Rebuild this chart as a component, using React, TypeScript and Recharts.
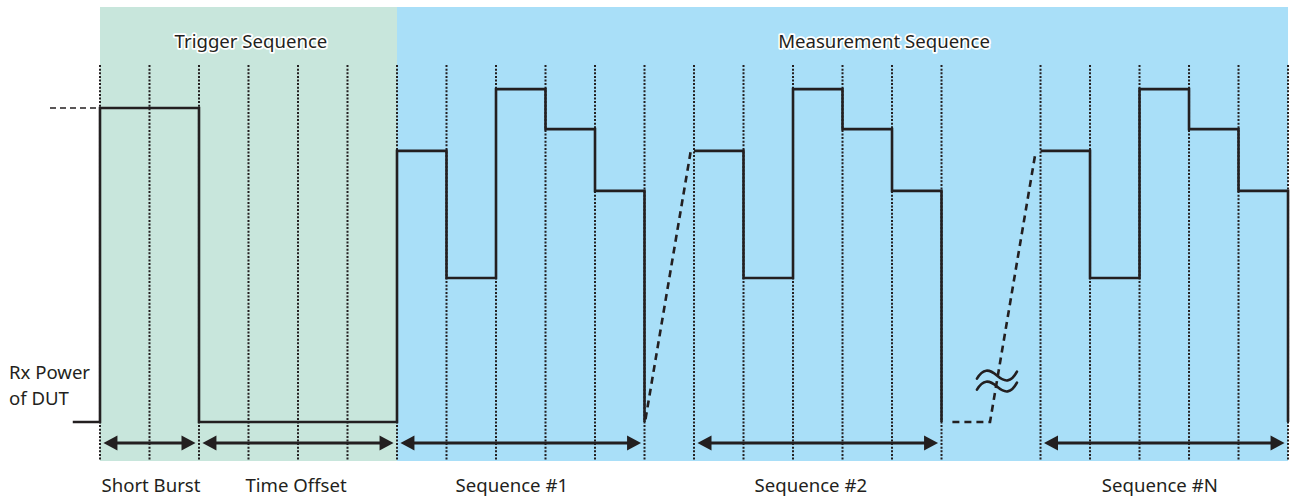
import {
  ComposedChart,
  Line,
  ReferenceArea,
  ReferenceDot,
  ReferenceLine,
  Scatter,
  XAxis,
  YAxis,
} from "recharts";

const INK = "#231f20";
const FONT = "'Noto Sans', sans-serif";
const FONT_SIZE = 18.6;
const TRIGGER_BG = "#c8e6dc";
const MEASURE_BG = "#a9dff8";

// x is in slot units (one dotted division per slot), y is relative power 0..100
const X_DOMAIN: [number, number] = [-2.02, 24.04];
const SLOT_LINES = [0, 1, 2, 3, 4, 5, 6, 7, 8, 9, 10, 11, 12, 13, 14, 15, 16, 17, 19, 20, 21, 22, 23, 24];
const GRID_TOP = 87.2;

const BASE = 8.6;
const BURST = 77.75;
const SEQ_LEVELS = [68.3, 40.3, 81.9, 73.1, 59.5];
const SEQ_STARTS = [6, 12, 19];

const TRIGGER_WAVE = [
  { x: -0.55, y: BASE },
  { x: 0, y: BASE },
  { x: 0, y: BURST },
  { x: 2, y: BURST },
  { x: 2, y: BASE },
  { x: 6, y: BASE },
];
const BURST_REF = [
  { x: -1.01, y: BURST },
  { x: 0, y: BURST },
];
const GAP_RAMP_1 = [
  { x: 11.02, y: 9.2 },
  { x: 11.93, y: 68.0 },
];
const GAP_RAMP_N = [
  { x: 17.22, y: BASE },
  { x: 17.98, y: BASE },
  { x: 18.9, y: 68.0 },
];

const ARROW_Y = 3.96;
const ARROW_INSET = 0.07;
const SPANS: [number, number][] = [
  [0, 2],
  [2, 6],
  [6, 11],
  [12, 17],
  [19, 24],
];

const SPAN_LABELS = ["Short Burst", "Time Offset", "Sequence #1", "Sequence #2", "Sequence #N"];
const SPAN_LABEL_X = [1.03, 3.96, 8.32, 14.36, 21.41];

const BAND_TITLES = ["Trigger Sequence", "Measurement Sequence"];
const BAND_TITLE_X = [3.05, 15.84];
const BAND_TITLE_Y = 92.3;

const AXIS_NOTE = ["Rx Power", "of DUT"];
const AXIS_NOTE_Y = [18.0, 12.4];

function sequenceSteps(start: number) {
  const pts = SEQ_LEVELS.flatMap((lv, i) => [
    { x: start + i, y: lv },
    { x: start + i + 1, y: lv },
  ]);
  pts.push({ x: start + SEQ_LEVELS.length, y: BASE });
  return pts;
}

const WAVE_1 = [...TRIGGER_WAVE, ...sequenceSteps(SEQ_STARTS[0])];
const WAVE_2 = sequenceSteps(SEQ_STARTS[1]);
const WAVE_N = sequenceSteps(SEQ_STARTS[2]);

const ARROW_HEADS = SPANS.flatMap(([a, b]) => [
  { x: a + ARROW_INSET, y: ARROW_Y, dir: -1 },
  { x: b - ARROW_INSET, y: ARROW_Y, dir: 1 },
]);

function ArrowHead(props: any) {
  const { cx, cy, payload } = props;
  const d = payload.dir;
  const back = cx - d * 14;
  return <polygon points={`${cx},${cy} ${back},${cy - 7.5} ${back},${cy + 7.5}`} fill={INK} />;
}

function TitleText(props: any) {
  const { viewBox, value } = props;
  return (
    <text
      x={viewBox.x}
      y={viewBox.y + 6}
      textAnchor="middle"
      fontFamily={FONT}
      fontSize={FONT_SIZE}
      fill={INK}
      stroke="#fff"
      strokeWidth={3.5}
      strokeLinejoin="round"
      paintOrder="stroke"
    >
      {value}
    </text>
  );
}

function NoteText(props: any) {
  const { viewBox, value } = props;
  return (
    <text x={viewBox.x} y={viewBox.y} fontFamily={FONT} fontSize={FONT_SIZE} fill={INK}>
      {value}
    </text>
  );
}

// "≈" break mark drawn over the dashed ramp
function Squiggle(props: any) {
  const { viewBox } = props;
  const wave = "m -20,3 c 6,-10 12,-10 20,-3 s 14,7 20,-4";
  return (
    <g transform={`translate(${viewBox.x},${viewBox.y})`} fill="none" stroke={INK} strokeWidth={2.6} strokeLinecap="round">
      <path d={`M 0,-5.5 ${wave}`} />
      <path d={`M 0,5.5 ${wave}`} />
    </g>
  );
}

export default function App() {
  return (
    <div>
      <style>{"body{margin:0}"}</style>
      <ComposedChart
        width={1290}
        height={499}
        margin={{ top: 7, right: 0, bottom: 0, left: 0 }}
      >
        <XAxis
          type="number"
          dataKey="x"
          domain={X_DOMAIN}
          ticks={SPAN_LABEL_X}
          tickFormatter={(v: number) => SPAN_LABELS[SPAN_LABEL_X.indexOf(v)] ?? ""}
          interval={0}
          height={38}
          axisLine={false}
          tickLine={false}
          tickSize={0}
          tickMargin={18}
          tick={{ fontSize: FONT_SIZE, fill: INK, fontFamily: FONT }}
        />
        <YAxis type="number" dataKey="y" domain={[0, 100]} hide />

        <ReferenceArea x1={0} x2={6} y1={0} y2={100} fill={TRIGGER_BG} fillOpacity={1} stroke="none" />
        <ReferenceArea x1={6} x2={24} y1={0} y2={100} fill={MEASURE_BG} fillOpacity={1} stroke="none" />

        {SLOT_LINES.map((s) => (
          <ReferenceLine
            key={s}
            segment={[
              { x: s, y: GRID_TOP },
              { x: s, y: 0 },
            ]}
            stroke={INK}
            strokeWidth={2}
            strokeDasharray="2 1.6"
          />
        ))}

        <Line data={BURST_REF} dataKey="y" type="linear" stroke={INK} strokeWidth={1.6} strokeDasharray="6 4" dot={false} isAnimationActive={false} />
        <Line data={WAVE_1} dataKey="y" type="linear" stroke={INK} strokeWidth={2.6} dot={false} isAnimationActive={false} />
        <Line data={WAVE_2} dataKey="y" type="linear" stroke={INK} strokeWidth={2.6} dot={false} isAnimationActive={false} />
        <Line data={WAVE_N} dataKey="y" type="linear" stroke={INK} strokeWidth={2.6} dot={false} isAnimationActive={false} />
        <Line data={GAP_RAMP_1} dataKey="y" type="linear" stroke={INK} strokeWidth={2.6} strokeDasharray="7 5" dot={false} isAnimationActive={false} />
        <Line data={GAP_RAMP_N} dataKey="y" type="linear" stroke={INK} strokeWidth={2.6} strokeDasharray="7 5" dot={false} isAnimationActive={false} />

        {SPANS.map(([a, b]) => (
          <ReferenceLine
            key={`${a}-${b}`}
            segment={[
              { x: a + ARROW_INSET + 0.2, y: ARROW_Y },
              { x: b - ARROW_INSET - 0.2, y: ARROW_Y },
            ]}
            stroke={INK}
            strokeWidth={3}
          />
        ))}
        <Scatter data={ARROW_HEADS} dataKey="y" shape={ArrowHead} isAnimationActive={false} />

        {BAND_TITLES.map((t, i) => (
          <ReferenceDot
            key={t}
            x={BAND_TITLE_X[i]}
            y={BAND_TITLE_Y}
            r={0}
            ifOverflow="visible"
            label={<TitleText value={t} />}
          />
        ))}
        {AXIS_NOTE.map((t, i) => (
          <ReferenceDot key={t} x={-1.84} y={AXIS_NOTE_Y[i]} r={0} ifOverflow="visible" label={<NoteText value={t} />} />
        ))}
        <ReferenceDot x={18.12} y={17.6} r={0} ifOverflow="visible" label={<Squiggle />} />
      </ComposedChart>
    </div>
  );
}
